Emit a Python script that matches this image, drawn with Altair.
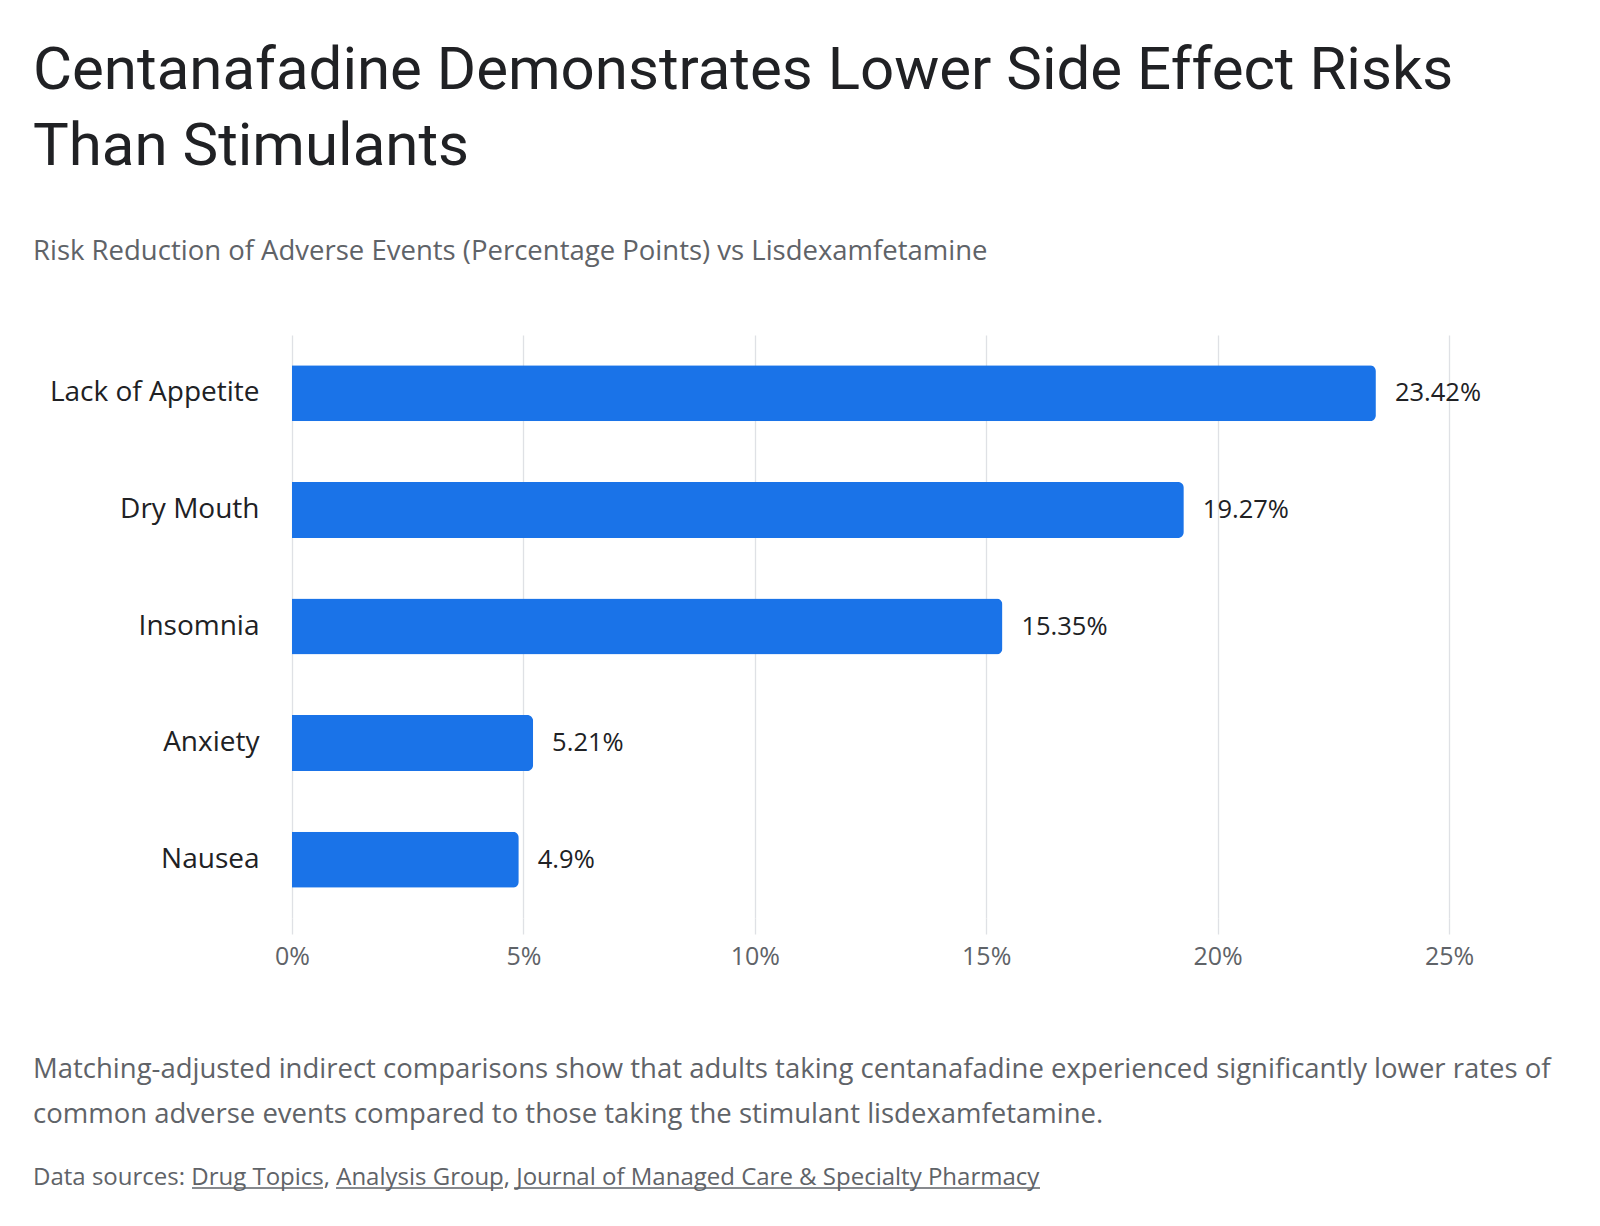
import altair as alt
import pandas as pd

TFONT = "Roboto"
FONT = "Open Sans"

categories = ["Lack of Appetite", "Dry Mouth", "Insomnia", "Anxiety", "Nausea"]
values = [23.42, 19.27, 15.35, 5.21, 4.9]
x_ticks = [0, 5, 10, 15, 20, 25]

title_lines = ["Centanafadine Demonstrates Lower Side Effect Risks", "Than Stimulants"]
subtitle = "Risk Reduction of Adverse Events (Percentage Points) vs Lisdexamfetamine"
footer_note = ("Matching-adjusted indirect comparisons show that adults taking centanafadine experienced significantly lower rates of\n"
               "common adverse events compared to those taking the stimulant lisdexamfetamine.")
footer_sources = "Data sources: Drug Topics, Analysis Group, Journal of Managed Care & Specialty Pharmacy"

df = pd.DataFrame({
    "category": categories,
    "value": values,
    "label": [f"{v}%" for v in values],
})

W = 1157
H = 583

y_enc = alt.Y("category:N", sort=categories, title=None,
              scale=alt.Scale(paddingInner=0.52, paddingOuter=0.26),
              axis=alt.Axis(domain=False, ticks=False, labelPadding=33, labelLimit=0,
                            labelFont=FONT, labelFontSize=28, labelColor="#202124"))
x_enc = alt.X("value:Q", title=None,
              scale=alt.Scale(domain=[0, 25], nice=False),
              axis=alt.Axis(values=x_ticks, domain=False, grid=True, gridColor="#dfe1e5",
                            gridWidth=1.3, ticks=True, tickColor="#dfe1e5", tickSize=16,
                            tickWidth=1.3, labelPadding=10, labelFlush=False,
                            labelExpr="datum.value + '%'",
                            labelFont=FONT, labelFontSize=25, labelColor="#5f6368"))

bars = alt.Chart(df).mark_bar(color="#1a73e8", cornerRadiusTopRight=6,
                              cornerRadiusBottomRight=6).encode(y=y_enc, x=x_enc)

labels = alt.Chart(df).mark_text(align="left", baseline="middle", dx=19,
                                 font=FONT, fontSize=25.5, color="#202124").encode(
    y=alt.Y("category:N", sort=categories),
    x=alt.X("value:Q"),
    text="label:N",
)

note = alt.Chart(pd.DataFrame({"t": [footer_note]})).mark_text(
    align="left", baseline="middle", lineBreak="\n", lineHeight=45,
    font=FONT, fontSize=27.5, color="#5f6368").encode(
    x=alt.value(-259), y=alt.value(735), text="t:N")

sources = alt.Chart(pd.DataFrame({"t": [footer_sources]})).mark_text(
    align="left", baseline="middle",
    font=FONT, fontSize=24, color="#5f6368").encode(
    x=alt.value(-259), y=alt.value(843), text="t:N")

def underline(x1, x2):
    return alt.Chart(pd.DataFrame({"k": [0]})).mark_rule(
        color="#5f6368", strokeWidth=1.3).encode(
        x=alt.value(x1), x2=alt.value(x2), y=alt.value(853))

links = [underline(-100, 31), underline(44, 211), underline(222, 748)]

chart = alt.layer(bars, labels, note, sources, *links).properties(
    width=W, height=H, background="white",
    title=alt.TitleParams(
        text=title_lines, subtitle=subtitle, anchor="start", frame="group",
        dx=-259, offset=69, font=TFONT, fontSize=60, fontWeight="normal",
        color="#202124", lineHeight=76,
        subtitleFont=FONT, subtitleFontSize=27.5, subtitleColor="#5f6368",
        subtitlePadding=60,
    ),
    autosize=alt.AutoSizeParams(type="none"),
    padding={"left": 292, "top": 335, "right": 151, "bottom": 308},
).configure_view(strokeWidth=0, stroke="transparent")

chart.save("out.html", embed_options={"renderer": "svg", "actions": False})
